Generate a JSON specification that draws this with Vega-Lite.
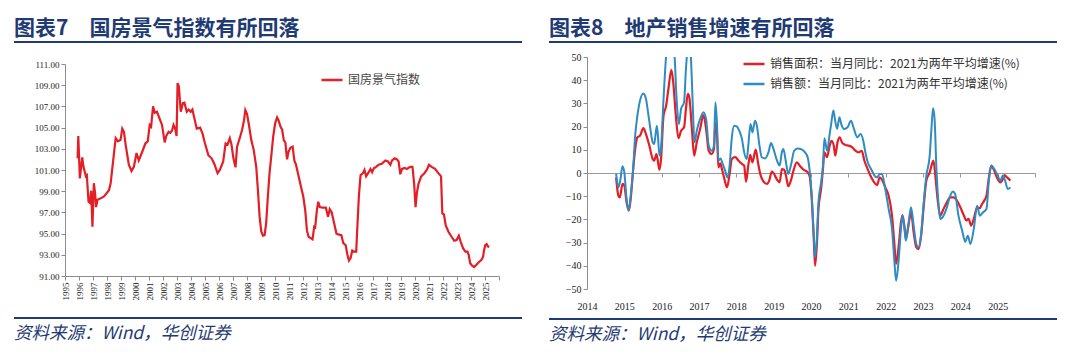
{
  "$schema": "https://vega.github.io/schema/vega-lite/v6.json",
  "padding": {"left": 14, "top": 18, "right": 0, "bottom": 0},
  "background": "white",
  "config": {
    "view": {"stroke": null},
    "axis": {"labelFont": "Liberation Serif", "labelColor": "#222", "domainColor": "#8c8c8c", "tickColor": "#8c8c8c", "grid": false, "title": null, "labelFlush": false, "labelOverlap": false},
    "title": {"font": "Noto Sans CJK SC"},
    "legend": {"labelFont": "Noto Sans CJK SC"}
  },
  "resolve": {"scale": {"color": "independent"}, "legend": {"color": "independent"}},
  "datasets": {
    "gf": [
      {"t": 1995.90, "v": 102.1}, {"t": 1995.95, "v": 104.2}, {"t": 1996.06, "v": 100.2}, {"t": 1996.23, "v": 102.2},
      {"t": 1996.32, "v": 101.3}, {"t": 1996.49, "v": 100.4}, {"t": 1996.56, "v": 100.5}, {"t": 1996.68, "v": 98.0},
      {"t": 1996.77, "v": 97.9}, {"t": 1996.87, "v": 99.05}, {"t": 1996.96, "v": 95.65}, {"t": 1997.06, "v": 99.75},
      {"t": 1997.15, "v": 98.8}, {"t": 1997.22, "v": 97.5}, {"t": 1997.32, "v": 98.2}, {"t": 1997.51, "v": 98.3},
      {"t": 1997.79, "v": 98.5}, {"t": 1998.14, "v": 99.1}, {"t": 1998.26, "v": 99.75}, {"t": 1998.50, "v": 102.6},
      {"t": 1998.62, "v": 104.0}, {"t": 1998.78, "v": 103.7}, {"t": 1998.97, "v": 103.85}, {"t": 1999.09, "v": 104.9},
      {"t": 1999.21, "v": 104.6}, {"t": 1999.33, "v": 103.4}, {"t": 1999.56, "v": 101.5}, {"t": 1999.75, "v": 100.9},
      {"t": 1999.92, "v": 101.3}, {"t": 2000.11, "v": 102.6}, {"t": 2000.27, "v": 101.9}, {"t": 2000.51, "v": 102.7},
      {"t": 2000.74, "v": 103.5}, {"t": 2000.91, "v": 103.7}, {"t": 2001.05, "v": 105.25}, {"t": 2001.15, "v": 105.1},
      {"t": 2001.29, "v": 107.0}, {"t": 2001.41, "v": 106.4}, {"t": 2001.57, "v": 106.5}, {"t": 2001.71, "v": 106.0},
      {"t": 2001.93, "v": 105.25}, {"t": 2002.12, "v": 103.6}, {"t": 2002.23, "v": 104.2}, {"t": 2002.40, "v": 104.6},
      {"t": 2002.52, "v": 104.5}, {"t": 2002.64, "v": 104.7}, {"t": 2002.75, "v": 105.25}, {"t": 2002.87, "v": 104.9},
      {"t": 2002.97, "v": 104.2}, {"t": 2003.04, "v": 109.2}, {"t": 2003.13, "v": 108.9}, {"t": 2003.27, "v": 106.5},
      {"t": 2003.42, "v": 107.3}, {"t": 2003.53, "v": 107.35}, {"t": 2003.70, "v": 106.5}, {"t": 2003.84, "v": 106.7},
      {"t": 2003.98, "v": 106.5}, {"t": 2004.10, "v": 106.7}, {"t": 2004.22, "v": 106.0}, {"t": 2004.41, "v": 104.9},
      {"t": 2004.65, "v": 105.0}, {"t": 2004.83, "v": 104.4}, {"t": 2005.00, "v": 103.5}, {"t": 2005.24, "v": 102.4},
      {"t": 2005.47, "v": 102.1}, {"t": 2005.66, "v": 101.6}, {"t": 2005.90, "v": 100.7}, {"t": 2006.06, "v": 101.0},
      {"t": 2006.30, "v": 101.8}, {"t": 2006.47, "v": 103.5}, {"t": 2006.61, "v": 103.4}, {"t": 2006.77, "v": 104.0},
      {"t": 2006.89, "v": 103.4}, {"t": 2007.03, "v": 102.1}, {"t": 2007.18, "v": 101.25}, {"t": 2007.29, "v": 103.2},
      {"t": 2007.48, "v": 104.0}, {"t": 2007.65, "v": 104.8}, {"t": 2007.79, "v": 105.7}, {"t": 2007.88, "v": 106.66},
      {"t": 2008.00, "v": 106.3}, {"t": 2008.14, "v": 105.25}, {"t": 2008.31, "v": 103.8}, {"t": 2008.48, "v": 102.9},
      {"t": 2008.66, "v": 101.3}, {"t": 2008.78, "v": 99.1}, {"t": 2008.90, "v": 96.6}, {"t": 2009.02, "v": 95.2},
      {"t": 2009.14, "v": 94.8}, {"t": 2009.26, "v": 94.85}, {"t": 2009.37, "v": 96.0}, {"t": 2009.49, "v": 98.5},
      {"t": 2009.61, "v": 100.7}, {"t": 2009.73, "v": 102.26}, {"t": 2009.87, "v": 104.14}, {"t": 2010.01, "v": 105.4},
      {"t": 2010.15, "v": 105.97}, {"t": 2010.25, "v": 105.7}, {"t": 2010.39, "v": 105.1}, {"t": 2010.51, "v": 104.8},
      {"t": 2010.63, "v": 103.8}, {"t": 2010.74, "v": 103.6}, {"t": 2010.86, "v": 102.0}, {"t": 2010.96, "v": 102.7},
      {"t": 2011.10, "v": 103.1}, {"t": 2011.26, "v": 103.2}, {"t": 2011.38, "v": 101.9}, {"t": 2011.50, "v": 101.5},
      {"t": 2011.67, "v": 100.5}, {"t": 2011.86, "v": 99.4}, {"t": 2012.02, "v": 98.5}, {"t": 2012.16, "v": 97.2},
      {"t": 2012.28, "v": 95.3}, {"t": 2012.40, "v": 94.7}, {"t": 2012.52, "v": 94.6}, {"t": 2012.68, "v": 94.46},
      {"t": 2012.80, "v": 95.65}, {"t": 2012.87, "v": 95.6}, {"t": 2012.99, "v": 97.2}, {"t": 2013.09, "v": 98.0},
      {"t": 2013.20, "v": 97.5}, {"t": 2013.39, "v": 97.45}, {"t": 2013.63, "v": 97.45}, {"t": 2013.79, "v": 96.6},
      {"t": 2013.91, "v": 97.3}, {"t": 2014.05, "v": 97.0}, {"t": 2014.22, "v": 96.0}, {"t": 2014.39, "v": 95.0},
      {"t": 2014.57, "v": 94.9}, {"t": 2014.74, "v": 94.85}, {"t": 2014.88, "v": 94.1}, {"t": 2015.05, "v": 93.9},
      {"t": 2015.17, "v": 93.0}, {"t": 2015.28, "v": 92.45}, {"t": 2015.40, "v": 92.7}, {"t": 2015.52, "v": 93.4},
      {"t": 2015.64, "v": 93.3}, {"t": 2015.80, "v": 93.3}, {"t": 2015.87, "v": 95.3}, {"t": 2015.99, "v": 98.5},
      {"t": 2016.11, "v": 100.5}, {"t": 2016.28, "v": 100.7}, {"t": 2016.39, "v": 101.0}, {"t": 2016.51, "v": 100.4},
      {"t": 2016.65, "v": 100.7}, {"t": 2016.82, "v": 101.1}, {"t": 2016.94, "v": 100.8}, {"t": 2017.06, "v": 101.16},
      {"t": 2017.22, "v": 101.3}, {"t": 2017.41, "v": 101.5}, {"t": 2017.65, "v": 101.6}, {"t": 2017.88, "v": 101.9},
      {"t": 2018.07, "v": 101.8}, {"t": 2018.24, "v": 101.5}, {"t": 2018.36, "v": 101.9}, {"t": 2018.55, "v": 102.1},
      {"t": 2018.71, "v": 102.0}, {"t": 2018.83, "v": 101.8}, {"t": 2018.95, "v": 100.6}, {"t": 2019.07, "v": 101.1},
      {"t": 2019.26, "v": 101.2}, {"t": 2019.42, "v": 101.1}, {"t": 2019.66, "v": 101.3}, {"t": 2019.82, "v": 101.3},
      {"t": 2019.94, "v": 99.7}, {"t": 2020.04, "v": 97.5}, {"t": 2020.13, "v": 98.8}, {"t": 2020.25, "v": 99.7},
      {"t": 2020.44, "v": 100.4}, {"t": 2020.67, "v": 100.7}, {"t": 2020.84, "v": 101.0}, {"t": 2021.00, "v": 101.5},
      {"t": 2021.19, "v": 101.3}, {"t": 2021.43, "v": 101.1}, {"t": 2021.67, "v": 100.7}, {"t": 2021.86, "v": 100.4},
      {"t": 2021.95, "v": 96.9}, {"t": 2022.07, "v": 96.8}, {"t": 2022.19, "v": 95.8}, {"t": 2022.38, "v": 95.2},
      {"t": 2022.61, "v": 94.7}, {"t": 2022.80, "v": 94.33}, {"t": 2022.97, "v": 94.4}, {"t": 2023.13, "v": 94.8},
      {"t": 2023.27, "v": 94.2}, {"t": 2023.44, "v": 93.6}, {"t": 2023.60, "v": 93.3}, {"t": 2023.75, "v": 93.3},
      {"t": 2023.84, "v": 92.98}, {"t": 2023.94, "v": 92.2}, {"t": 2024.08, "v": 91.97}, {"t": 2024.22, "v": 91.85},
      {"t": 2024.39, "v": 92.06}, {"t": 2024.55, "v": 92.3}, {"t": 2024.74, "v": 92.5}, {"t": 2024.86, "v": 92.8},
      {"t": 2024.93, "v": 93.4}, {"t": 2025.02, "v": 93.9}, {"t": 2025.12, "v": 94.0}, {"t": 2025.21, "v": 93.8},
      {"t": 2025.28, "v": 93.7}
    ],
    "area": [
      {"t": 2014.78, "v": -1.9}, {"t": 2014.84, "v": -9.8}, {"t": 2014.88, "v": -10.5}, {"t": 2014.95, "v": -4.7},
      {"t": 2015.00, "v": -5.5}, {"t": 2015.06, "v": -12.6}, {"t": 2015.12, "v": -16.2}, {"t": 2015.17, "v": -11.2},
      {"t": 2015.23, "v": 0.3}, {"t": 2015.29, "v": 10.3}, {"t": 2015.35, "v": 15.4}, {"t": 2015.42, "v": 16.1},
      {"t": 2015.51, "v": 19.3}, {"t": 2015.58, "v": 16.8}, {"t": 2015.67, "v": 11.8}, {"t": 2015.76, "v": 6.0},
      {"t": 2015.80, "v": 5.3}, {"t": 2015.86, "v": 8.2}, {"t": 2015.89, "v": 6.0}, {"t": 2015.94, "v": 1.4},
      {"t": 2015.98, "v": 5.3}, {"t": 2016.05, "v": 24.7}, {"t": 2016.12, "v": 29.0}, {"t": 2016.18, "v": 36.2},
      {"t": 2016.26, "v": 44.5}, {"t": 2016.31, "v": 39.1}, {"t": 2016.38, "v": 24.7}, {"t": 2016.45, "v": 15.0},
      {"t": 2016.52, "v": 18.2}, {"t": 2016.60, "v": 19.7}, {"t": 2016.65, "v": 27.6}, {"t": 2016.70, "v": 34.1},
      {"t": 2016.74, "v": 32.6}, {"t": 2016.81, "v": 19.0}, {"t": 2016.87, "v": 7.5}, {"t": 2016.94, "v": 13.2},
      {"t": 2017.03, "v": 19.0}, {"t": 2017.12, "v": 25.0}, {"t": 2017.19, "v": 19.0}, {"t": 2017.26, "v": 9.6},
      {"t": 2017.34, "v": 8.2}, {"t": 2017.40, "v": 10.3}, {"t": 2017.44, "v": 21.6}, {"t": 2017.48, "v": 17.5},
      {"t": 2017.52, "v": 2.4}, {"t": 2017.57, "v": 4.2}, {"t": 2017.61, "v": 2.0}, {"t": 2017.67, "v": -1.9},
      {"t": 2017.75, "v": -6.2}, {"t": 2017.82, "v": -0.4}, {"t": 2017.88, "v": 6.0}, {"t": 2017.97, "v": 6.8},
      {"t": 2018.06, "v": 5.3}, {"t": 2018.15, "v": 3.9}, {"t": 2018.21, "v": 3.2}, {"t": 2018.26, "v": -3.7},
      {"t": 2018.32, "v": 3.2}, {"t": 2018.37, "v": 7.8}, {"t": 2018.43, "v": 4.6}, {"t": 2018.52, "v": 10.1},
      {"t": 2018.58, "v": 4.6}, {"t": 2018.64, "v": -0.4}, {"t": 2018.73, "v": -3.7}, {"t": 2018.82, "v": -4.7},
      {"t": 2018.88, "v": -3.3}, {"t": 2018.95, "v": 0.6}, {"t": 2019.01, "v": -0.4}, {"t": 2019.09, "v": -2.9},
      {"t": 2019.16, "v": -4.0}, {"t": 2019.22, "v": 1.7}, {"t": 2019.28, "v": 1.4}, {"t": 2019.34, "v": -1.9},
      {"t": 2019.39, "v": -5.7}, {"t": 2019.46, "v": -3.3}, {"t": 2019.53, "v": 1.0}, {"t": 2019.62, "v": 4.6},
      {"t": 2019.71, "v": 2.9}, {"t": 2019.80, "v": 1.4}, {"t": 2019.89, "v": 0.6}, {"t": 2019.96, "v": -1.1},
      {"t": 2020.02, "v": -11.2}, {"t": 2020.07, "v": -27.0}, {"t": 2020.11, "v": -40.0}, {"t": 2020.16, "v": -29.9},
      {"t": 2020.20, "v": -15.5}, {"t": 2020.27, "v": -6.9}, {"t": 2020.32, "v": 1.7}, {"t": 2020.36, "v": 8.9},
      {"t": 2020.43, "v": 6.8}, {"t": 2020.50, "v": 11.8}, {"t": 2020.55, "v": 13.9}, {"t": 2020.61, "v": 11.8},
      {"t": 2020.65, "v": 7.5}, {"t": 2020.71, "v": 13.2}, {"t": 2020.77, "v": 15.4}, {"t": 2020.83, "v": 13.2},
      {"t": 2020.92, "v": 12.1}, {"t": 2021.01, "v": 11.8}, {"t": 2021.10, "v": 11.1}, {"t": 2021.19, "v": 9.6},
      {"t": 2021.27, "v": 8.9}, {"t": 2021.36, "v": 9.6}, {"t": 2021.43, "v": 5.3}, {"t": 2021.50, "v": 2.4},
      {"t": 2021.59, "v": -1.1}, {"t": 2021.68, "v": -3.7}, {"t": 2021.77, "v": -5.2}, {"t": 2021.84, "v": -1.9},
      {"t": 2021.90, "v": -2.9}, {"t": 2021.99, "v": -6.2}, {"t": 2022.08, "v": -9.8}, {"t": 2022.17, "v": -18.4},
      {"t": 2022.23, "v": -29.9}, {"t": 2022.28, "v": -39.2}, {"t": 2022.35, "v": -31.3}, {"t": 2022.41, "v": -21.3},
      {"t": 2022.45, "v": -18.1}, {"t": 2022.51, "v": -24.1}, {"t": 2022.54, "v": -28.4}, {"t": 2022.61, "v": -22.7},
      {"t": 2022.68, "v": -16.9}, {"t": 2022.75, "v": -25.6}, {"t": 2022.82, "v": -32.0}, {"t": 2022.88, "v": -32.8},
      {"t": 2022.95, "v": -27.0}, {"t": 2023.02, "v": -14.1}, {"t": 2023.09, "v": -3.3}, {"t": 2023.18, "v": 0.3},
      {"t": 2023.24, "v": 3.9}, {"t": 2023.28, "v": 5.3}, {"t": 2023.33, "v": -1.1}, {"t": 2023.39, "v": -11.2},
      {"t": 2023.46, "v": -18.4}, {"t": 2023.55, "v": -15.5}, {"t": 2023.64, "v": -12.6}, {"t": 2023.73, "v": -10.5},
      {"t": 2023.82, "v": -10.5}, {"t": 2023.91, "v": -11.9}, {"t": 2024.00, "v": -14.8}, {"t": 2024.09, "v": -18.1},
      {"t": 2024.16, "v": -20.5}, {"t": 2024.22, "v": -19.8}, {"t": 2024.29, "v": -22.7}, {"t": 2024.36, "v": -19.8},
      {"t": 2024.45, "v": -14.8}, {"t": 2024.52, "v": -15.2}, {"t": 2024.58, "v": -13.4}, {"t": 2024.64, "v": -11.9},
      {"t": 2024.70, "v": -9.8}, {"t": 2024.76, "v": -2.6}, {"t": 2024.83, "v": 3.2}, {"t": 2024.89, "v": 1.7},
      {"t": 2024.98, "v": -1.9}, {"t": 2025.07, "v": -4.0}, {"t": 2025.14, "v": -2.6}, {"t": 2025.18, "v": -0.9},
      {"t": 2025.25, "v": -1.9}, {"t": 2025.34, "v": -3.3}
    ],
    "amount": [
      {"t": 2014.78, "v": -0.4}, {"t": 2014.84, "v": -6.2}, {"t": 2014.89, "v": -3.3}, {"t": 2014.95, "v": 2.9},
      {"t": 2015.00, "v": 0.3}, {"t": 2015.06, "v": -11.2}, {"t": 2015.12, "v": -16.2}, {"t": 2015.17, "v": -9.8},
      {"t": 2015.23, "v": 0.3}, {"t": 2015.29, "v": 16.1}, {"t": 2015.35, "v": 24.7}, {"t": 2015.42, "v": 31.2},
      {"t": 2015.51, "v": 34.3}, {"t": 2015.58, "v": 31.9}, {"t": 2015.66, "v": 23.3}, {"t": 2015.76, "v": 13.2},
      {"t": 2015.80, "v": 12.5}, {"t": 2015.87, "v": 20.4}, {"t": 2015.90, "v": 16.1}, {"t": 2015.94, "v": 7.5},
      {"t": 2015.98, "v": 10.3}, {"t": 2016.05, "v": 31.9}, {"t": 2016.12, "v": 50.6}, {"t": 2016.18, "v": 58.0},
      {"t": 2016.26, "v": 60.0}, {"t": 2016.31, "v": 56.0}, {"t": 2016.34, "v": 52.0}, {"t": 2016.40, "v": 31.9},
      {"t": 2016.46, "v": 21.1}, {"t": 2016.52, "v": 27.6}, {"t": 2016.60, "v": 30.5}, {"t": 2016.65, "v": 44.8},
      {"t": 2016.69, "v": 53.0}, {"t": 2016.74, "v": 58.0}, {"t": 2016.79, "v": 47.7}, {"t": 2016.83, "v": 30.5},
      {"t": 2016.88, "v": 13.2}, {"t": 2016.94, "v": 18.2}, {"t": 2017.03, "v": 23.3}, {"t": 2017.12, "v": 26.2},
      {"t": 2017.19, "v": 23.3}, {"t": 2017.26, "v": 11.8}, {"t": 2017.34, "v": 9.6}, {"t": 2017.40, "v": 11.8},
      {"t": 2017.44, "v": 30.5}, {"t": 2017.48, "v": 21.8}, {"t": 2017.52, "v": 5.3}, {"t": 2017.58, "v": 6.3},
      {"t": 2017.62, "v": 4.6}, {"t": 2017.70, "v": 1.0}, {"t": 2017.76, "v": -1.9}, {"t": 2017.82, "v": 3.2},
      {"t": 2017.88, "v": 15.4}, {"t": 2017.94, "v": 20.4}, {"t": 2018.01, "v": 20.1}, {"t": 2018.08, "v": 18.2},
      {"t": 2018.15, "v": 14.7}, {"t": 2018.21, "v": 8.9}, {"t": 2018.28, "v": 6.0}, {"t": 2018.32, "v": 11.8},
      {"t": 2018.38, "v": 21.1}, {"t": 2018.43, "v": 17.5}, {"t": 2018.50, "v": 22.5}, {"t": 2018.55, "v": 20.4},
      {"t": 2018.62, "v": 11.8}, {"t": 2018.68, "v": 6.8}, {"t": 2018.77, "v": 6.3}, {"t": 2018.86, "v": 8.9},
      {"t": 2018.93, "v": 12.9}, {"t": 2018.99, "v": 10.6}, {"t": 2019.09, "v": 5.3}, {"t": 2019.16, "v": 3.2},
      {"t": 2019.22, "v": 8.9}, {"t": 2019.26, "v": 10.3}, {"t": 2019.33, "v": 4.6}, {"t": 2019.39, "v": -0.4},
      {"t": 2019.46, "v": 3.2}, {"t": 2019.55, "v": 9.6}, {"t": 2019.64, "v": 10.6}, {"t": 2019.76, "v": 10.1},
      {"t": 2019.84, "v": 8.9}, {"t": 2019.91, "v": 6.8}, {"t": 2019.96, "v": 1.7}, {"t": 2020.02, "v": -9.8},
      {"t": 2020.07, "v": -25.6}, {"t": 2020.11, "v": -36.3}, {"t": 2020.16, "v": -27.0}, {"t": 2020.20, "v": -12.6},
      {"t": 2020.27, "v": -4.0}, {"t": 2020.32, "v": 3.2}, {"t": 2020.36, "v": 15.0}, {"t": 2020.43, "v": 9.6},
      {"t": 2020.50, "v": 16.8}, {"t": 2020.54, "v": 21.1}, {"t": 2020.60, "v": 26.9}, {"t": 2020.64, "v": 23.3},
      {"t": 2020.70, "v": 19.0}, {"t": 2020.76, "v": 24.0}, {"t": 2020.81, "v": 21.1}, {"t": 2020.89, "v": 19.0},
      {"t": 2020.98, "v": 19.7}, {"t": 2021.07, "v": 22.5}, {"t": 2021.15, "v": 19.0}, {"t": 2021.24, "v": 15.4},
      {"t": 2021.33, "v": 16.8}, {"t": 2021.40, "v": 13.9}, {"t": 2021.45, "v": 9.5}, {"t": 2021.52, "v": 4.6},
      {"t": 2021.61, "v": 1.7}, {"t": 2021.70, "v": -1.1}, {"t": 2021.77, "v": -1.9}, {"t": 2021.84, "v": -0.4},
      {"t": 2021.90, "v": -0.4}, {"t": 2021.99, "v": -6.9}, {"t": 2022.08, "v": -15.5}, {"t": 2022.17, "v": -24.1},
      {"t": 2022.23, "v": -37.1}, {"t": 2022.28, "v": -46.4}, {"t": 2022.35, "v": -37.1}, {"t": 2022.41, "v": -24.1},
      {"t": 2022.45, "v": -18.4}, {"t": 2022.51, "v": -24.9}, {"t": 2022.54, "v": -29.2}, {"t": 2022.61, "v": -22.0},
      {"t": 2022.68, "v": -14.8}, {"t": 2022.75, "v": -22.7}, {"t": 2022.82, "v": -30.6}, {"t": 2022.88, "v": -32.0},
      {"t": 2022.95, "v": -26.3}, {"t": 2023.02, "v": -12.6}, {"t": 2023.09, "v": -1.1}, {"t": 2023.18, "v": 7.5},
      {"t": 2023.22, "v": 17.5}, {"t": 2023.27, "v": 27.9}, {"t": 2023.31, "v": 23.3}, {"t": 2023.36, "v": 1.7},
      {"t": 2023.42, "v": -14.1}, {"t": 2023.46, "v": -19.8}, {"t": 2023.55, "v": -18.4}, {"t": 2023.64, "v": -14.8},
      {"t": 2023.73, "v": -9.8}, {"t": 2023.80, "v": -8.0}, {"t": 2023.86, "v": -9.0}, {"t": 2023.95, "v": -18.4},
      {"t": 2024.05, "v": -24.9}, {"t": 2024.13, "v": -29.6}, {"t": 2024.20, "v": -27.0}, {"t": 2024.27, "v": -30.6},
      {"t": 2024.36, "v": -24.1}, {"t": 2024.45, "v": -14.1}, {"t": 2024.52, "v": -18.4}, {"t": 2024.61, "v": -16.9},
      {"t": 2024.70, "v": -15.5}, {"t": 2024.76, "v": -4.0}, {"t": 2024.83, "v": 3.2}, {"t": 2024.91, "v": 1.7},
      {"t": 2025.00, "v": -1.1}, {"t": 2025.07, "v": -3.3}, {"t": 2025.14, "v": -1.1}, {"t": 2025.20, "v": -3.3},
      {"t": 2025.27, "v": -6.9}, {"t": 2025.34, "v": -6.2}
    ]
  },
  "hconcat": [
    {
      "resolve": {"scale": {"color": "independent"}, "legend": {"color": "independent"}},
      "vconcat": [
        {
          "resolve": {"scale": {"color": "independent"}, "legend": {"color": "independent"}},
          "vconcat": [
            {
              "width": 508, "height": 2,
              "view": {"fill": "#1F3B73", "stroke": null},
              "title": {"text": "图表7　国房景气指数有所回落", "anchor": "start", "fontSize": 21, "fontWeight": "bold", "color": "#1F3B73", "offset": 2},
              "data": {"values": []},
              "mark": {"type": "text"},
              "encoding": {"text": {"value": ""}}
            },
            {
              "resolve": {"scale": {"color": "independent"}, "legend": {"color": "independent"}},
              "spacing": 0,
              "hconcat": [
                {
                  "width": 1, "height": 1,
                  "data": {"values": []},
                  "mark": {"type": "text"},
                  "encoding": {"text": {"value": ""}}
                },
                {
                  "width": 434, "height": 212,
                  "data": {"name": "gf"},
                  "mark": {"type": "line", "strokeWidth": 2.2},
                  "encoding": {
                    "x": {"field": "t", "type": "quantitative",
                      "scale": {"domain": [1995, 2026], "nice": false, "zero": false},
                      "axis": {"values": [1995,1996,1997,1998,1999,2000,2001,2002,2003,2004,2005,2006,2007,2008,2009,2010,2011,2012,2013,2014,2015,2016,2017,2018,2019,2020,2021,2022,2023,2024,2025,2026],
                        "labelExpr": "datum.value == 2026 ? '' : datum.label",
                        "format": "d", "labelAngle": -90, "labelFontSize": 9, "tickSize": 4, "labelPadding": 2}},
                    "y": {"field": "v", "type": "quantitative",
                      "scale": {"domain": [91, 111], "nice": false, "zero": false},
                      "axis": {"values": [91,93,95,97,99,101,103,105,107,109,111], "format": ".2f", "labelFontSize": 9, "tickSize": 4, "minExtent": 50}},
                    "color": {"datum": "国房景气指数", "type": "nominal",
                      "scale": {"domain": ["国房景气指数"], "range": ["#E41E26"]},
                      "legend": {"title": null, "orient": "none", "legendX": 255, "legendY": 4, "symbolType": "stroke", "symbolSize": 441, "symbolStrokeWidth": 2.5, "labelFontSize": 12, "labelColor": "#444"}}
                  }
                }
              ]
            }
          ],
          "spacing": 17
        },
        {
          "width": 508, "height": 2,
          "view": {"fill": "#1F3B73", "stroke": null},
          "title": {"text": "资料来源：Wind，华创证券", "orient": "bottom", "anchor": "start", "fontSize": 17.5, "fontWeight": "normal", "fontStyle": "italic", "color": "#1F3B73", "offset": 6},
          "data": {"values": []},
          "mark": {"type": "text"},
          "encoding": {"text": {"value": ""}}
        }
      ],
      "spacing": 17
    },
    {
      "resolve": {"scale": {"color": "independent"}, "legend": {"color": "independent"}},
      "vconcat": [
        {
          "resolve": {"scale": {"color": "independent"}, "legend": {"color": "independent"}},
          "vconcat": [
            {
              "width": 508, "height": 2,
              "view": {"fill": "#1F3B73", "stroke": null},
              "title": {"text": "图表8　地产销售增速有所回落", "anchor": "start", "fontSize": 21, "fontWeight": "bold", "color": "#1F3B73", "offset": 2},
              "data": {"values": []},
              "mark": {"type": "text"},
              "encoding": {"text": {"value": ""}}
            },
            {
              "resolve": {"scale": {"color": "independent"}, "legend": {"color": "independent"}},
              "spacing": 0,
              "hconcat": [
                {
                  "width": 1, "height": 1,
                  "data": {"values": []},
                  "mark": {"type": "text"},
                  "encoding": {"text": {"value": ""}}
                },
                {
                  "width": 448, "height": 232,
                  "layer": [
                    {
                      "data": {"name": "area"},
                      "mark": {"type": "line", "strokeWidth": 2.2, "interpolate": "monotone", "clip": true},
                      "encoding": {
                        "x": {"field": "t", "type": "quantitative",
                          "scale": {"domain": [2014, 2026], "nice": false, "zero": false},
                          "axis": {"values": [2014,2015,2016,2017,2018,2019,2020,2021,2022,2023,2024,2025], "format": "d", "domain": false, "ticks": false, "tickSize": 0, "labelPadding": 12, "labelFontSize": 10}},
                        "y": {"field": "v", "type": "quantitative",
                          "scale": {"domain": [-50, 50], "nice": false, "zero": false},
                          "axis": {"values": [-50,-40,-30,-20,-10,0,10,20,30,40,50], "labelFontSize": 10, "tickSize": 4, "minExtent": 37, "labelOverlap": false}},
                        "color": {"datum": "销售面积：当月同比：2021为两年平均增速(%)", "type": "nominal",
                          "scale": {"domain": ["销售面积：当月同比：2021为两年平均增速(%)", "销售额：当月同比：2021为两年平均增速(%)"], "range": ["#E31E24", "#2F8BC4"]},
                          "legend": {"title": null, "orient": "none", "legendX": 155, "legendY": -5, "rowPadding": 2, "symbolType": "stroke", "symbolSize": 441, "symbolStrokeWidth": 2.5, "labelFontSize": 12, "labelColor": "#333", "labelLimit": 400}}
                      }
                    },
                    {
                      "data": {"name": "amount"},
                      "mark": {"type": "line", "strokeWidth": 2.0, "interpolate": "monotone", "clip": true},
                      "encoding": {
                        "x": {"field": "t", "type": "quantitative",
                          "axis": {"orient": "top", "offset": -116, "labels": false, "values": [2014,2015,2016,2017,2018,2019,2020,2021,2022,2023,2024,2025,2026], "tickSize": -4, "domainColor": "#999", "tickColor": "#999", "minExtent": 0, "maxExtent": 0}},
                        "y": {"field": "v", "type": "quantitative", "axis": null},
                        "color": {"datum": "销售额：当月同比：2021为两年平均增速(%)", "type": "nominal"}
                      }
                    }
                  ],
                  "resolve": {"axis": {"x": "independent", "y": "independent"}}
                }
              ]
            }
          ],
          "spacing": 9
        },
        {
          "width": 508, "height": 2,
          "view": {"fill": "#1F3B73", "stroke": null},
          "title": {"text": "资料来源：Wind，华创证券", "orient": "bottom", "anchor": "start", "fontSize": 17.5, "fontWeight": "normal", "fontStyle": "italic", "color": "#1F3B73", "offset": 6},
          "data": {"values": []},
          "mark": {"type": "text"},
          "encoding": {"text": {"value": ""}}
        }
      ],
      "spacing": 7
    }
  ],
  "spacing": 27
}
